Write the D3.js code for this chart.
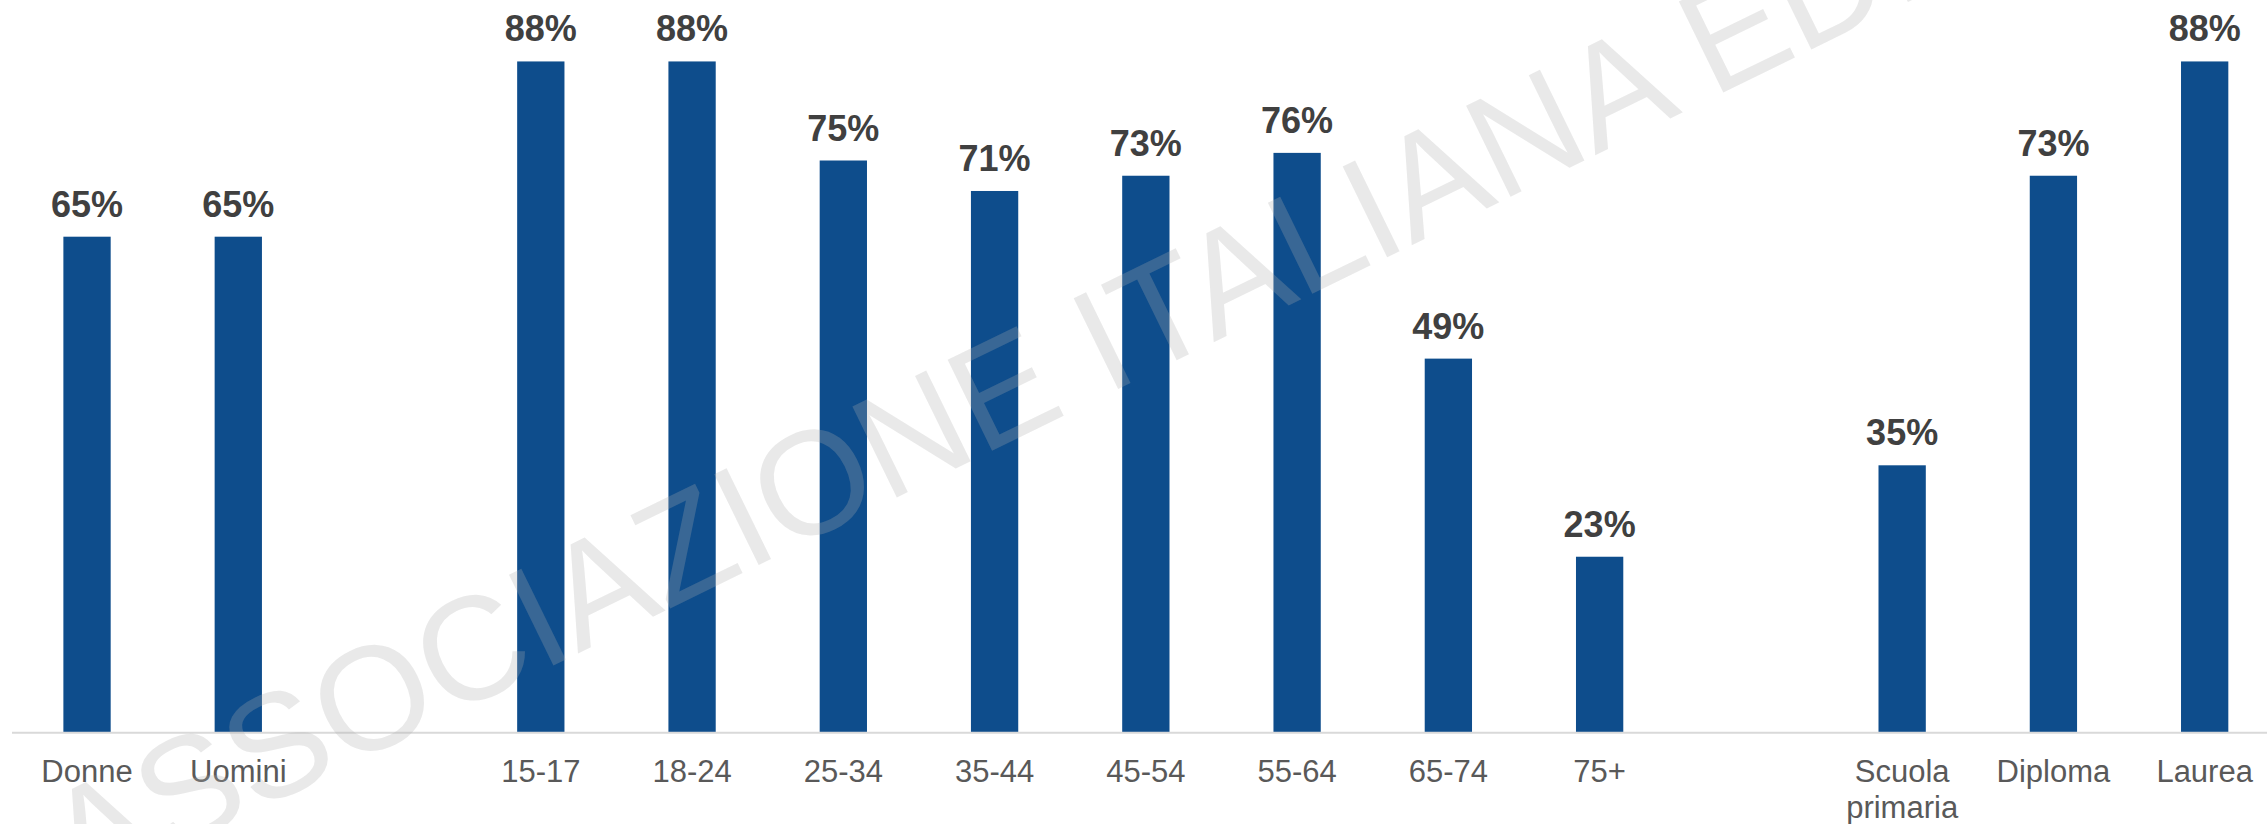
<!DOCTYPE html>
<html>
<head>
<meta charset="utf-8">
<script src="https://cdn.jsdelivr.net/npm/d3@7/dist/d3.min.js"></script>
<style>
  html, body { margin: 0; padding: 0; background: #ffffff; }
  svg { display: block; }
</style>
</head>
<body>
<svg id="chart" width="2267" height="824"></svg>
<script>
// ---- data ----
const categories = ["Donne", "Uomini", "", "15-17", "18-24", "25-34", "35-44", "45-54", "55-64", "65-74", "75+", "", "Scuola\nprimaria", "Diploma", "Laurea"];
const values =     [65,      65,       null, 88,     88,      75,      71,      73,      76,      49,      23,    null, 35,                 73,        88];
const valueLabels = ["65%", "65%", "", "88%", "88%", "75%", "71%", "73%", "76%", "49%", "23%", "", "35%", "73%", "88%"];
const watermarkText = "ASSOCIAZIONE ITALIANA EDITORI";

const W = 2267, H = 824;
const svg = d3.select("#chart");

const slots = categories.map((c, i) => "s" + i);
const x = d3.scaleBand().domain(slots).range([11.4, 2280.3]).paddingInner(0).paddingOuter(0);
const y = d3.scaleLinear().domain([0, 100]).range([732, -30]);
const barW = x.bandwidth() * 0.3127;

const rows = categories.map((c, i) => ({ key: slots[i], cat: c, v: values[i], lab: valueLabels[i] }));
const barRows = rows.filter(d => d.v !== null);

// bars
svg.append("g").selectAll("rect").data(barRows).join("rect")
  .attr("x", d => x(d.key) + (x.bandwidth() - barW) / 2)
  .attr("y", d => y(d.v))
  .attr("width", barW)
  .attr("height", d => y(0) - y(d.v))
  .attr("fill", "#0e4d8c");

// axis line
svg.append("line")
  .attr("x1", 12).attr("x2", W)
  .attr("y1", y(0) + 0.7).attr("y2", y(0) + 0.7)
  .attr("stroke", "#d9d9d9").attr("stroke-width", 2);

// value labels
svg.append("g").selectAll("text").data(barRows).join("text")
  .attr("x", d => x(d.key) + x.bandwidth() / 2)
  .attr("y", d => y(d.v) - 20)
  .attr("text-anchor", "middle")
  .attr("font-family", "'Liberation Sans', Arial, sans-serif")
  .attr("font-weight", "bold")
  .attr("font-size", 36)
  .attr("fill", "#404040")
  .text(d => d.lab);

// category labels
const catG = svg.append("g").selectAll("text").data(rows.filter(d => d.cat !== "")).join("text")
  .attr("x", d => x(d.key) + x.bandwidth() / 2)
  .attr("y", 781.5)
  .attr("text-anchor", "middle")
  .attr("font-family", "'Liberation Sans', Arial, sans-serif")
  .attr("font-size", 31)
  .attr("fill", "#595959");
catG.each(function(d) {
  const lines = d.cat.split("\n");
  const t = d3.select(this);
  lines.forEach((ln, j) => {
    t.append("tspan")
      .attr("x", x(d.key) + x.bandwidth() / 2)
      .attr("dy", j === 0 ? 0 : 36.6)
      .text(ln);
  });
});

// watermark
svg.append("text")
  .attr("transform", "translate(79,898) rotate(-26.1)")
  .attr("font-family", "'Liberation Sans', Arial, sans-serif")
  .attr("font-size", 147)
  .attr("fill", "rgb(175,175,175)")
  .attr("fill-opacity", 0.27)
  .text(watermarkText);
</script>
</body>
</html>
